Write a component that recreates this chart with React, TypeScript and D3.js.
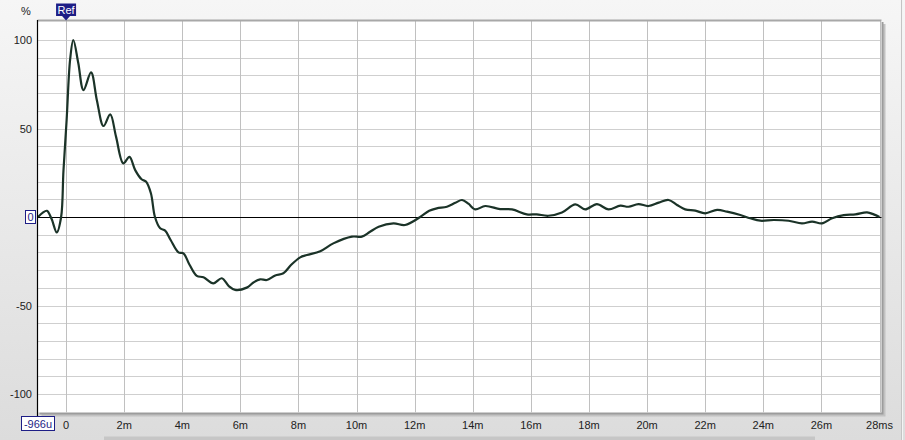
import React from "react";
import * as d3 from "d3";

const times: number[] = [
  -0.966, -0.8, -0.66, -0.5, -0.32, -0.17, -0.09, 0.02, 0.14, 0.25, 0.42, 0.6, 0.86, 1.06, 1.29, 1.52, 1.72,
  1.97, 2.18, 2.38, 2.6, 2.75, 2.92, 3.06, 3.24, 3.41, 3.6, 3.87, 4.04, 4.25, 4.5, 4.73, 5.07, 5.36, 5.6,
  5.82, 6.22, 6.45, 6.68, 6.91, 7.2, 7.48, 7.75, 8.06, 8.29, 8.75, 9.2, 9.84, 10.18, 10.45, 10.76, 11.27,
  11.67, 12.19, 12.5, 12.76, 13.11, 13.4, 13.63, 13.85, 14.08, 14.43, 14.94, 15.35, 15.86, 16.2, 16.6,
  17.07, 17.53, 17.87, 18.27, 18.67, 19.08, 19.36, 19.7, 20.05, 20.4, 20.74, 21.03, 21.31, 21.66, 22.0,
  22.41, 22.75, 23.21, 23.55, 23.9, 24.36, 24.87, 25.33, 25.68, 26.02, 26.37, 26.77, 27.17, 27.57, 27.8, 28.0,
];
const values: number[] = [
  0, 2.5, 3.5, -1, -8.7, 0, 26, 55, 89, 100, 87, 71.7, 81.7, 66, 51.4, 58, 45.4,
  30.3, 34, 26.5, 21.3, 20, 13.4, 0, -6.4, -7.7, -13, -20, -20.5, -27, -33.3, -34, -37.5, -34.6, -39,
  -41.2, -39.9, -37, -35.2, -35.6, -33, -31.8, -27, -22.8, -21.5, -19.3, -14.9, -11.1, -11.1, -8.5, -5.5, -3.6,
  -4.5, 0, 3.5, 4.9, 5.8, 8, 9.6, 7.5, 4.3, 6.2, 4.5, 4.3, 1.5, 1.5, 0.7,
  2.6, 7.1, 4.3, 7.3, 4.3, 6.4, 5.8, 7.3, 6.2, 8.1, 9.6, 6.8, 4.3, 3.6, 2.1,
  4, 3.0, 1.1, -0.7, -2.1, -1.7, -2.1, -3.6, -2.6, -3.6, -0.7, 1.1, 1.5, 2.6, 1.5, 0,
];

const xTickValues: number[] = [0, 2, 4, 6, 8, 10, 12, 14, 16, 18, 20, 22, 24, 26, 28];
const xTickLabels: string[] = ["0", "2m", "4m", "6m", "8m", "10m", "12m", "14m", "16m", "18m", "20m", "22m", "24m", "26m", "28ms"];
const yLabelValues: number[] = [100, 50, -50, -100];
const yLabelTexts: string[] = ["100", "50", "-50", "-100"];
const yGridValues: number[] = d3.range(-100, 101, 10);
const startLabel = "-966u";
const xMin = -0.966;
const xMax = 28;

const W = 905;
const H = 440;
const plotL = 37.5;
const plotR = 881.5;
const plotT = 20;
const plotB = 412.5;
const FONT = "'Liberation Sans', Arial, sans-serif";

export default function App() {
  const x = d3.scaleLinear().domain([xMin, xMax]).range([38, 879.5]);
  const y = d3.scaleLinear().domain([-100, 100]).range([394, 40]);
  const pts = times.map((t, i) => [t, values[i]] as [number, number]);
  const line = d3
    .line<[number, number]>()
    .x((d) => x(d[0]))
    .y((d) => y(d[1]))
    .curve(d3.curveCatmullRom.alpha(0.5));
  const refX = x(0);
  const navy = "#1e1e86";

  return (
    <svg
      width={W}
      height={H}
      style={{ position: "absolute", left: 0, top: 0, display: "block" }}
      fontFamily={FONT}
    >
      <defs>
        <linearGradient id="bg" x1="0" y1="0" x2="0" y2="1">
          <stop offset="0" stopColor="#f6f6f6" />
          <stop offset="1" stopColor="#dcdcdc" />
        </linearGradient>
      </defs>
      <rect x={0} y={0} width={W} height={H} fill="url(#bg)" />
      {/* right separator */}
      <line x1={901.5} x2={901.5} y1={0} y2={H} stroke="#c4c4c4" />
      <line x1={902.5} x2={902.5} y1={0} y2={H} stroke="#f4f4f4" />
      {/* bottom scrollbar */}
      <rect x={104} y={436.5} width={711} height={4} fill="#c6c6c6" />
      {/* shadow */}
      <rect x={plotL + 4} y={plotT + 4} width={plotR - plotL} height={plotB - plotT} fill="#c2c2c2" />
      <rect x={plotL + 2} y={plotT + 2} width={plotR - plotL} height={plotB - plotT} fill="#9c9c9c" />
      {/* plot */}
      <rect x={plotL} y={plotT} width={plotR - plotL} height={plotB - plotT} fill="#ffffff" />
      {yGridValues.map((v) => (
        <line
          key={"hg" + v}
          x1={plotL}
          x2={plotR}
          y1={Math.round(y(v)) + 0.5}
          y2={Math.round(y(v)) + 0.5}
          stroke="#cfcfcf"
        />
      ))}
      {xTickValues.map((v) => (
        <line
          key={"vg" + v}
          x1={Math.round(x(v)) + 0.5}
          x2={Math.round(x(v)) + 0.5}
          y1={plotT}
          y2={plotB}
          stroke="#c0c0c0"
        />
      ))}
      <line x1={plotL} x2={plotR} y1={plotT + 0.5} y2={plotT + 0.5} stroke="#a8a8a8" strokeWidth={2} />
      {/* zero line */}
      <line x1={plotL} x2={plotR} y1={Math.round(y(0)) + 0.5} y2={Math.round(y(0)) + 0.5} stroke="#000" />
      {/* curve */}
      <path d={line(pts) || ""} fill="none" stroke="#1b3328" strokeWidth={2.2} strokeLinejoin="round" />
      {/* left axis */}
      <line x1={plotL} x2={plotL} y1={plotT} y2={416} stroke="#000" strokeWidth={1.2} />
      {/* y labels */}
      <text x={26} y={15} fontSize={11} textAnchor="middle" fill="#222">%</text>
      {yLabelValues.map((v, i) => (
        <text key={"yl" + v} x={32} y={y(v) + 4} fontSize={11} textAnchor="end" fill="#222">
          {yLabelTexts[i]}
        </text>
      ))}
      {/* zero box */}
      <rect x={25.5} y={y(0) - 6.5} width={10} height={13} fill="#fff" stroke={navy} />
      <text x={30.5} y={y(0) + 4} fontSize={11} textAnchor="middle" fill={navy}>0</text>
      {/* x labels */}
      {xTickValues.map((v, i) => (
        <text key={"xl" + v} x={x(v)} y={429} fontSize={11} textAnchor="middle" fill="#222">
          {xTickLabels[i]}
        </text>
      ))}
      <rect x={21.5} y={416.5} width={33} height={14} fill="#fff" stroke={navy} />
      <text x={38} y={428} fontSize={11} textAnchor="middle" fill={navy}>{startLabel}</text>
      {/* Ref marker */}
      <path
        d={`M${refX - 10},3.5 H${refX + 10} V16 H${refX + 4} L${refX},20.5 L${refX - 4},16 H${refX - 10} Z`}
        fill={navy}
      />
      <text x={refX} y={14} fontSize={11} textAnchor="middle" fill="#fff">Ref</text>
    </svg>
  );
}
